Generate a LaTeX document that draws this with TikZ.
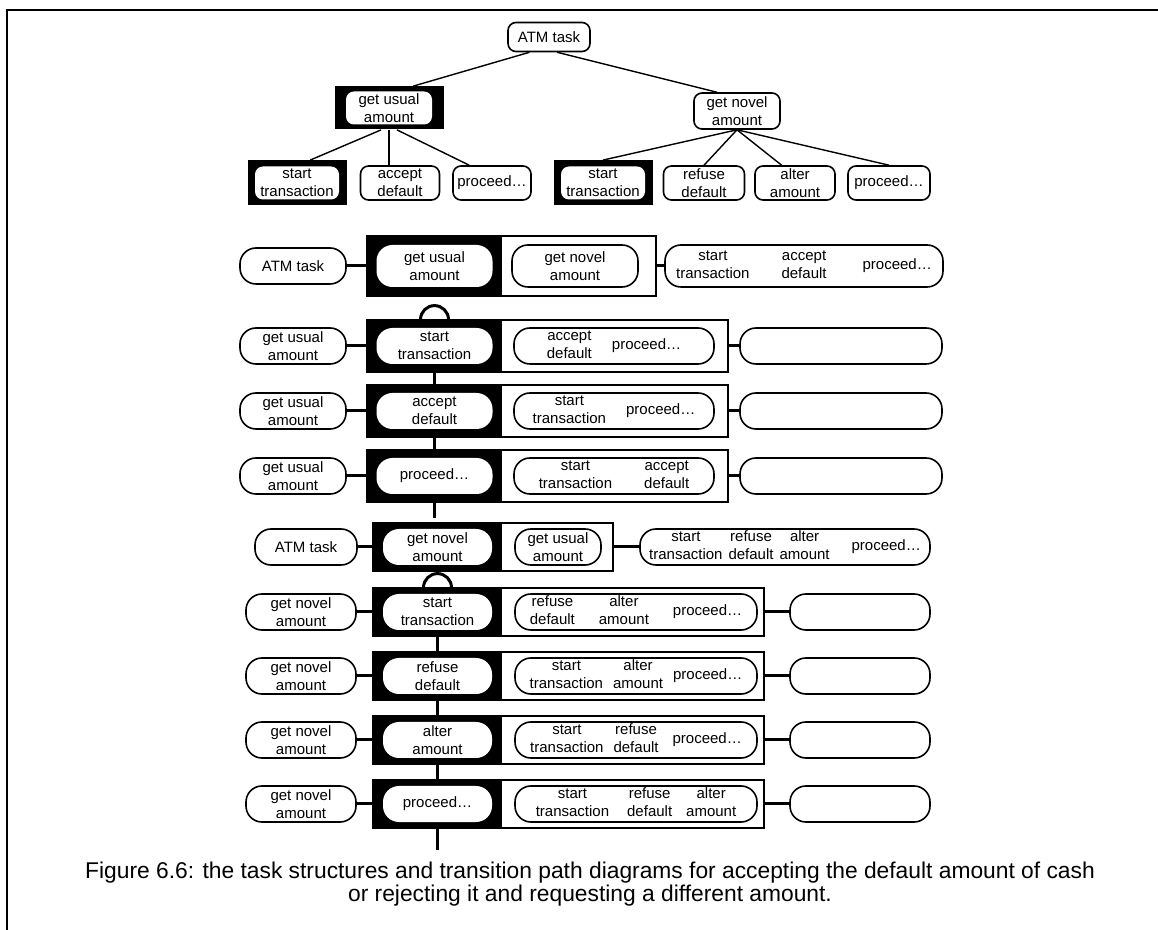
\documentclass[tikz,border=0pt]{standalone}
\usepackage{fontspec}
\setmainfont{Liberation Sans}
\usepackage{tikz}
\usetikzlibrary{arrows.meta}

\newcommand{\twol}[2]{\begin{tabular}[c]{@{}c@{}}#1\\#2\end{tabular}}

\begin{document}
\begin{tikzpicture}[x=0.5pt,y=-0.5pt,
  tn/.style={draw, line width=0.8pt, rounded corners=4pt, fill=white, align=center, inner sep=0pt, font=\fontsize{7.5}{8.8}\selectfont},
  pn/.style={tn, rounded corners=8pt, minimum height=18pt},
  cur/.style={pn, draw=none},
  tblk/.style={fill=black, inner sep=0pt},
  blk/.style={fill=black, inner sep=0pt, minimum height=26pt},
  frm/.style={draw, line width=0.6pt, fill=white, inner sep=0pt, minimum height=26pt},
  tline/.style={line width=0.7pt},
  conn/.style={line width=1.5pt}]
\useasboundingbox (0,0) rectangle (1158,930);
\draw[line width=1pt] (7,930) -- (7,10) -- (1158,10);

% task structure
\node[tn, minimum width=41pt, minimum height=14.5pt] (root) at (549,37) {ATM task};
\node[tblk, minimum width=54.5pt, minimum height=21.5pt] (gu) at (389,108) {};
\node[tn, draw=none, minimum width=43pt, minimum height=16.5pt] at (gu) {get usual\\amount};
\node[tn, minimum width=43pt, minimum height=18pt] (gn) at (737,111) {get novel\\amount};
\node[tblk, minimum width=49.5pt, minimum height=22.5pt] (st1) at (297,183) {};
\node[tn, draw=none, minimum width=42pt, minimum height=16.5pt] at (st1) {start\\transaction};
\node[tn, minimum width=39.5pt, minimum height=17pt] (ad) at (400,183) {accept\\default};
\node[tn, minimum width=39pt, minimum height=17pt] (pr1) at (492,183) {proceed…};
\node[tblk, minimum width=49.5pt, minimum height=22.5pt] (st2) at (603,183) {};
\node[tn, draw=none, minimum width=42pt, minimum height=16.5pt] at (st2) {start\\transaction};
\node[tn, minimum width=40.5pt, minimum height=17pt] (rd) at (704,183) {refuse\\default};
\node[tn, minimum width=40pt, minimum height=17pt] (aa) at (795,183) {alter\\amount};
\node[tn, minimum width=41pt, minimum height=17pt] (pr2) at (889,183) {proceed…};
\draw[tline] (root.218) -- (gu.42);
\draw[tline] (root.298) -- (gn.137);
\draw[tline] (gu.250) -- (st1.60);
\draw[tline] (gu.south) -- (gu.south |- ad.north);
\draw[tline] (gu.290) -- (pr1.142);
\draw[tline] (gn.south) -- (st2.north);
\draw[tline] (gn.south) -- (rd.north);
\draw[tline] (gn.south) -- (aa.127);
\draw[tline] (gn.south) -- (pr2.north);

% path diagram: get usual amount
\node[frm, minimum width=144.5pt, minimum height=30pt] (a1f) at (511.5,266) {};
\node[blk, minimum width=67.5pt, minimum height=30pt] (a1b) at (434.5,266) {};
\node[cur, minimum width=58pt, minimum height=21pt] (a1c) at (a1b) {get usual\\amount};
\node[pn, minimum width=63pt, minimum height=21pt] (a1o) at (575,266) {get novel\\amount};
\node[pn, minimum width=53pt] (a1l) at (293,266) {ATM task};
\node[pn, minimum width=139pt, minimum height=21pt] (a1r) at (804,266) {\twol{start}{transaction}\hspace{16pt}\twol{accept}{default}\hspace{18pt}proceed…};
\draw[conn] (a1l) -- (a1b);
\draw[conn] (a1f) -- (a1r);

\node[frm, minimum width=180.5pt] (a2f) at (547.5,346) {};
\node[blk, minimum width=67.5pt] (a2b) at (434.5,346) {};
\node[cur, minimum width=58pt] (a2c) at (a2b) {start\\transaction};
\node[pn, minimum width=100pt] (a2o) at (614,346) {\twol{accept}{default}\hspace{10pt}proceed…};
\node[pn, minimum width=53pt] (a2l) at (293,346) {get usual\\amount};
\node[pn, minimum width=101pt] (a2r) at (841,346) {};
\draw[conn] (a2l) -- (a2b);
\draw[conn] (a2f) -- (a2r);

\node[frm, minimum width=180.5pt] (a3f) at (547.5,411) {};
\node[blk, minimum width=67.5pt] (a3b) at (434.5,411) {};
\node[cur, minimum width=58pt] (a3c) at (a3b) {accept\\default};
\node[pn, minimum width=100pt] (a3o) at (614,411) {\twol{start}{transaction}\hspace{10pt}proceed…};
\node[pn, minimum width=53pt] (a3l) at (293,411) {get usual\\amount};
\node[pn, minimum width=101pt] (a3r) at (841,411) {};
\draw[conn] (a3l) -- (a3b);
\draw[conn] (a3f) -- (a3r);

\node[frm, minimum width=180.5pt] (a4f) at (547.5,476) {};
\node[blk, minimum width=67.5pt] (a4b) at (434.5,476) {};
\node[cur, minimum width=58pt] (a4c) at (a4b) {proceed…};
\node[pn, minimum width=100pt] (a4o) at (614,476) {\twol{start}{transaction}\hspace{16pt}\twol{accept}{default}};
\node[pn, minimum width=53pt] (a4l) at (293,476) {get usual\\amount};
\node[pn, minimum width=101pt] (a4r) at (841,476) {};
\draw[conn] (a4l) -- (a4b);
\draw[conn] (a4f) -- (a4r);

\coordinate (a5) at (434.5,518);
\draw[conn] ([xshift=-7pt]a2b.north) arc[start angle=180, end angle=0, radius=7pt];
\draw[conn] (a2b) -- (a3b);
\draw[conn] (a3b) -- (a4b);
\draw[conn] (a4b) -- (a5);

% path diagram: get novel amount
\node[frm, minimum width=120pt, minimum height=24pt] (b1f) at (493,547) {};
\node[blk, minimum width=64.5pt, minimum height=24pt] (b1b) at (437.5,547) {};
\node[cur, minimum width=54.5pt] (b1c) at (b1b) {get novel\\amount};
\node[pn, minimum width=43pt] (b1o) at (558,547) {get usual\\amount};
\node[pn, minimum width=51pt] (b1l) at (306,547) {ATM task};
\node[pn, minimum width=145pt] (b1r) at (785,547) {\twol{start}{transaction}\hspace{3pt}\twol{refuse}{default}\hspace{3pt}\twol{alter}{amount}\hspace{11pt}proceed…};
\draw[conn] (b1l) -- (b1b);
\draw[conn] (b1f) -- (b1r);

\node[frm, minimum width=195.5pt, minimum height=24pt] (b2f) at (568.5,612) {};
\node[blk, minimum width=64.5pt, minimum height=24pt] (b2b) at (437.5,612) {};
\node[cur, minimum width=54.5pt] (b2c) at (b2b) {start\\transaction};
\node[pn, minimum width=121pt] (b2o) at (636,612) {\twol{refuse}{default}\hspace{12pt}\twol{alter}{amount}\hspace{12pt}proceed…};
\node[pn, minimum width=55pt] (b2l) at (301,612) {get novel\\amount};
\node[pn, minimum width=70pt] (b2r) at (860,612) {};
\draw[conn] (b2l) -- (b2b);
\draw[conn] (b2f) -- (b2r);

\node[frm, minimum width=195.5pt, minimum height=24pt] (b3f) at (568.5,676) {};
\node[blk, minimum width=64.5pt, minimum height=24pt] (b3b) at (437.5,676) {};
\node[cur, minimum width=54.5pt] (b3c) at (b3b) {refuse\\default};
\node[pn, minimum width=121pt] (b3o) at (636,676) {\twol{start}{transaction}\hspace{5pt}\twol{alter}{amount}\hspace{5pt}proceed…};
\node[pn, minimum width=55pt] (b3l) at (301,676) {get novel\\amount};
\node[pn, minimum width=70pt] (b3r) at (860,676) {};
\draw[conn] (b3l) -- (b3b);
\draw[conn] (b3f) -- (b3r);

\node[frm, minimum width=195.5pt, minimum height=24pt] (b4f) at (568.5,740) {};
\node[blk, minimum width=64.5pt, minimum height=24pt] (b4b) at (437.5,740) {};
\node[cur, minimum width=54.5pt] (b4c) at (b4b) {alter\\amount};
\node[pn, minimum width=121pt] (b4o) at (636,740) {\twol{start}{transaction}\hspace{5pt}\twol{refuse}{default}\hspace{7pt}proceed…};
\node[pn, minimum width=55pt] (b4l) at (301,740) {get novel\\amount};
\node[pn, minimum width=70pt] (b4r) at (860,740) {};
\draw[conn] (b4l) -- (b4b);
\draw[conn] (b4f) -- (b4r);

\node[frm, minimum width=195.5pt, minimum height=24pt] (b5f) at (568.5,804) {};
\node[blk, minimum width=64.5pt, minimum height=24pt] (b5b) at (437.5,804) {};
\node[cur, minimum width=54.5pt] (b5c) at (b5b) {proceed…};
\node[pn, minimum width=121pt] (b5o) at (636,804) {\twol{start}{transaction}\hspace{9pt}\twol{refuse}{default}\hspace{7pt}\twol{alter}{amount}};
\node[pn, minimum width=55pt] (b5l) at (301,804) {get novel\\amount};
\node[pn, minimum width=70pt] (b5r) at (860,804) {};
\draw[conn] (b5l) -- (b5b);
\draw[conn] (b5f) -- (b5r);

\coordinate (b6) at (437.5,850);
\draw[conn] ([xshift=-7pt]b2b.north) arc[start angle=180, end angle=0, radius=7pt];
\draw[conn] (b2b) -- (b3b);
\draw[conn] (b3b) -- (b4b);
\draw[conn] (b4b) -- (b5b);
\draw[conn] (b5b) -- (b6);

\node[font=\fontsize{11.4}{11.5}\selectfont, align=center] (cap) at (590,884) {Figure 6.6: the task structures and transition path diagrams for accepting the default amount of cash\\or rejecting it and requesting a different amount.};
\end{tikzpicture}
\end{document}
